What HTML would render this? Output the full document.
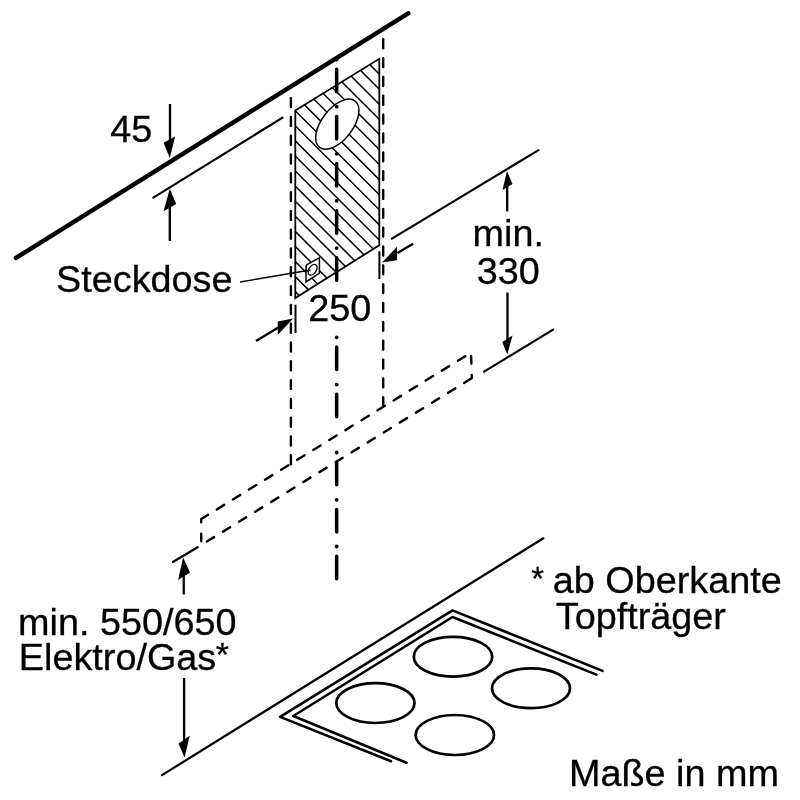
<!DOCTYPE html>
<html><head><meta charset="utf-8"><style>
html,body{margin:0;padding:0;background:#fff;}
svg{display:block;filter:blur(0.3px);}
text{font-family:"Liberation Sans",sans-serif;font-size:37.8px;fill:#000;stroke:#000;stroke-width:0.3px;}
</style></head><body>
<svg width="800" height="800" viewBox="0 0 800 800">
<defs><clipPath id="pg"><path d="M295.3,110.5L379.3,58.8V245.2L295.3,298Z"/></clipPath></defs>
<g fill="none" stroke="#000" stroke-linecap="butt">
<path d="M16,257.9L408.2,13.3" stroke-width="4.5" stroke-linecap="round"/>
<path d="M153.35,197.67L282.56,117.58" stroke-width="2.2" stroke-linecap="round"/>
<path d="M391.94,238.68L538.56,150.07" stroke-width="2.2" stroke-linecap="round"/>
<path d="M484.04,371.68L553.06,329.57" stroke-width="2.2" stroke-linecap="round"/>
<path d="M161.93,775.17L543.35,538.3" stroke-width="2.2" stroke-linecap="round"/>
<path d="M172.85,561.95L197.65,547.25" stroke-width="2.2" stroke-linecap="round"/>
<g clip-path="url(#pg)"><path d="M290,-30.26L385,64.74M290,-15.18L385,79.82M290,-0.1L385,94.9M290,14.98L385,109.98M290,30.06L385,125.06M290,45.14L385,140.14M290,60.22L385,155.22M290,75.3L385,170.3M290,90.38L385,185.38M290,105.46L385,200.46M290,120.54L385,215.54M290,135.62L385,230.62M290,150.7L385,245.7M290,165.78L385,260.78M290,180.86L385,275.86M290,195.94L385,290.94M290,211.02L385,306.02M290,226.1L385,321.1M290,241.18L385,336.18M290,256.26L385,351.26M290,271.34L385,366.34M290,286.42L385,381.42" stroke-width="1.5"/></g>
<path d="M295.3,110.5L379.3,58.8V245.2L295.3,298Z" stroke-width="1.8"/>
<ellipse cx="0" cy="0" rx="29.2" ry="15.6" transform="translate(337.3,124.2) rotate(-52.65)" fill="#fff" stroke-width="1.5"/>
<path d="M306,266.2Q306,265.3 307,264.7L319.4,257.8V273.2L306,282Z" fill="#fff" stroke-width="1.5"/>
<ellipse cx="0" cy="0" rx="5.9" ry="3.7" transform="translate(312.6,269.8) rotate(-56)" stroke-width="1.3"/>
<path d="M240,282L310.6,270" stroke-width="1.4"/>
<g stroke-width="2.4" stroke-linecap="round" stroke-linejoin="round">
<path d="M290.9,98.1L290.9,107.1M290.9,116.9L290.9,125.9M290.9,135.7L290.9,144.7M290.9,154.5L290.9,163.5M290.9,173.3L290.9,182.3M290.9,192.1L290.9,201.1M290.9,210.9L290.9,219.9M290.9,229.7L290.9,238.7M290.9,248.5L290.9,257.5M290.9,267.3L290.9,276.3M290.9,286.1L290.9,295.1M290.9,304.9L290.9,313.9M290.9,323.7L290.9,332.7M290.9,342.5L290.9,351.5M290.9,361.3L290.9,370.3M290.9,380.1L290.9,389.1M290.9,398.9L290.9,407.9M290.9,417.7L290.9,426.7M290.9,436.5L290.9,445.5M290.9,455.3L290.9,464.3"/>
<path d="M383.2,39.3L383.2,48.2M383.2,58.14L383.2,67.04M383.2,76.98L383.2,85.88M383.2,95.82L383.2,104.72M383.2,114.66L383.2,123.56M383.2,133.5L383.2,142.4M383.2,152.34L383.2,161.24M383.2,171.18L383.2,180.08M383.2,190.02L383.2,198.92M383.2,208.86L383.2,217.76M383.2,227.7L383.2,236.6M383.2,246.54L383.2,255.44M383.2,265.38L383.2,274.28M383.2,284.22L383.2,293.12M383.2,303.06L383.2,311.96M383.2,321.9L383.2,330.8M383.2,340.74L383.2,349.64M383.2,359.58L383.2,368.48M383.2,378.42L383.2,387.32M383.2,397.26L383.2,406.16"/>
<path d="M465.23,356.23L457.87,360.77M449.16,366.14L441.8,370.67M433.09,376.05L425.73,380.58M417.02,385.96L409.66,390.49M400.95,395.86L393.59,400.4M384.88,405.77L377.52,410.31M368.81,415.68L361.45,420.22M352.74,425.59L345.38,430.13M336.67,435.5L329.31,440.04M320.6,445.41L313.24,449.95M304.53,455.32L297.17,459.85M288.46,465.23L281.1,469.76M272.39,475.13L265.03,479.67M256.32,485.04L248.96,489.58M240.25,494.95L232.89,499.49M224.18,504.86L216.82,509.4M208.11,514.77L201.25,519L201.25,522.2M201.25,533.7V541.3M471.06,355.9L471.4,363.8M471.75,374.95L471.9,378.1L464.12,382.9M455.23,388.38L448.07,392.8M439.15,398.3L431.99,402.71M423.07,408.21L415.91,412.63M406.99,418.13L399.83,422.54M390.91,428.05L383.75,432.46M374.83,437.96L367.67,442.38M358.75,447.88L351.59,452.29M342.67,457.8L335.51,462.21M326.59,467.71L319.43,472.13M310.51,477.63L303.35,482.04M294.43,487.55L287.27,491.96M278.35,497.46L271.19,501.88M262.27,507.38L255.11,511.79M246.19,517.3L239.03,521.71M230.11,527.21L222.95,531.63M214.03,537.13L206.87,541.54"/>
</g>
<path d="M336.65,69.25V91.75M336.65,116.4V138.9M336.65,163.55V186.05M336.65,210.7V233.2M336.65,257.85V280.35M336.65,347.05V369.55M336.65,394.35V416.85M336.65,462.25V484.75M336.65,509.55V532.05M336.65,556.25V578.75" stroke-width="3.5" stroke-linecap="round"/>
<path d="M295.5,304.75V332.9M379.4,251.25V279" stroke-width="2"/>
<path d="M170,104V140M169.8,241V205M507.2,184V211.5M507.5,292.5V340M183.75,575V594.4M184.1,677.9V740M256,341.1L280,326.5M397.4,253.1L413.1,243.75" stroke-width="2.3"/>
<path d="M602.5,670.9L452.5,610.4L280.1,716.9L391,761.3" stroke-width="2.6" stroke-linejoin="round" stroke-linecap="round"/>
<path d="M596.4,674.6L452.5,617L293.3,716L406.5,762.7" stroke-width="2.6" stroke-linejoin="round" stroke-linecap="round"/>
<ellipse cx="453" cy="656.7" rx="39.2" ry="19.9" stroke-width="2.7"/>
<ellipse cx="531" cy="688.3" rx="39" ry="19.9" stroke-width="2.7"/>
<ellipse cx="375.4" cy="703.1" rx="39.1" ry="19.9" stroke-width="2.7"/>
<ellipse cx="454.85" cy="735" rx="39.2" ry="20" stroke-width="2.7"/>
</g>
<g fill="#000">
<circle cx="336.65" cy="59.5" r="1.9"/><circle cx="336.65" cy="106.65" r="1.9"/><circle cx="336.65" cy="153.8" r="1.9"/><circle cx="336.65" cy="200.95" r="1.9"/><circle cx="336.65" cy="248.1" r="1.9"/><circle cx="336.65" cy="337.3" r="1.9"/><circle cx="336.65" cy="384.6" r="1.9"/><circle cx="336.65" cy="452.5" r="1.9"/><circle cx="336.65" cy="499.8" r="1.9"/><circle cx="336.65" cy="546.5" r="1.9"/>
<path d="M163.6,142.8L175.1,136.6L169.75,158Z"/>
<path d="M163.6,211.2L176.2,203.9L169.8,188.7Z"/>
<path d="M502.5,190L512.5,184L507,171Z"/>
<path d="M502.25,341.9L512.5,335.6L507.25,354.4Z"/>
<path d="M178.1,580L190,572.5L183.1,557.5Z"/>
<path d="M178.5,743.75L189.8,735.6L184.5,757.5Z"/>
<path d="M277.75,321.6L277.75,335.1L293.1,318.6Z"/>
<path d="M397,246.75L397,260.25L382,262.5Z"/>
</g>
<text x="110.3" y="142">45</text>
<text x="56" y="292">Steckdose</text>
<text x="308.2" y="321">250</text>
<text x="472.6" y="246.4">min.</text>
<text x="476.7" y="284">330</text>
<text x="18" y="634.5">min. 550/650</text>
<text x="18.8" y="669.5">Elektro/Gas</text>
<text x="215.7" y="665.8" style="font-size:34px">*</text>
<text x="531.3" y="590" style="font-size:33px">*</text>
<text x="552.8" y="592.7">ab Oberkante</text>
<text x="555.75" y="628.75">Topfträger</text>
<text x="569" y="785.6">Maße in mm</text>
</svg>
</body></html>
